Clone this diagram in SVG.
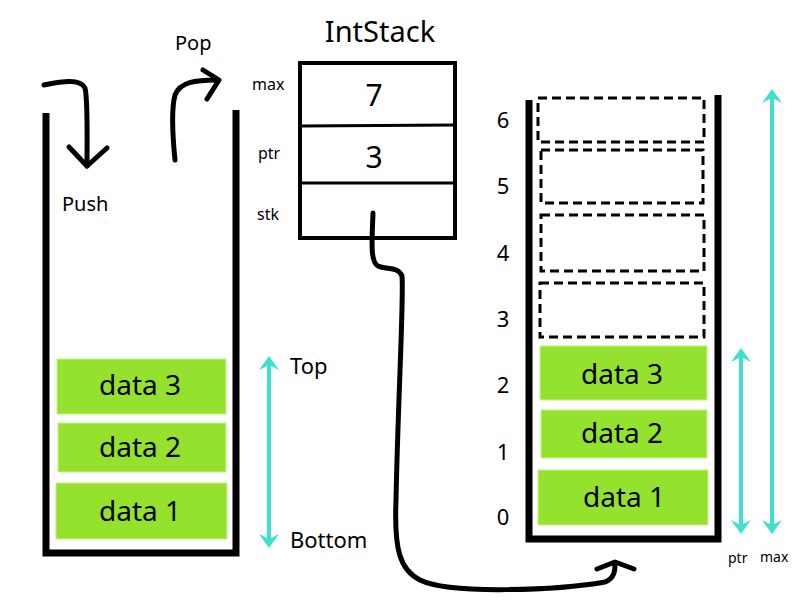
<svg xmlns="http://www.w3.org/2000/svg" width="800" height="600" viewBox="0 0 800 600">
<defs>
<style>
text{font-family:"Noto Sans","Noto Sans CJK KR","Open Sans",sans-serif;fill:#000}
.wall{fill:none;stroke:#000;stroke-width:7;stroke-linejoin:miter}
.green{fill:#95E22E;stroke:#c8f08a;stroke-width:1}
.dash{fill:none;stroke:#000;stroke-width:3;stroke-dasharray:9 5}
.dt{font-size:28px;text-anchor:middle}
.idx{font-size:22px;text-anchor:middle}
.ink{fill:none;stroke:#000;stroke-width:5;stroke-linecap:round;stroke-linejoin:round}
.cy{stroke:#40E0D0;stroke-width:4;fill:none;marker-start:url(#ah);marker-end:url(#ah)}
</style>
<marker id="ah" viewBox="-1 -11 16 22" markerUnits="userSpaceOnUse" markerWidth="16" markerHeight="22" refX="6" refY="0" orient="auto-start-reverse">
<path d="M0,-10 L14,0 L0,10 L5,0 Z" fill="#40E0D0"/>
</marker>
</defs>

<g id="left-stack">
<path class="wall" d="M46,113 L46,553 L236,553 L236,110"/>
<g id="l-data3"><rect class="green" x="57" y="359" width="169" height="55"/><text class="dt" x="140" y="395">data 3</text></g>
<g id="l-data2"><rect class="green" x="58" y="423" width="168" height="49"/><text class="dt" x="140" y="457">data 2</text></g>
<g id="l-data1"><rect class="green" x="56" y="483" width="171" height="56"/><text class="dt" x="140" y="521">data 1</text></g>
</g>

<g id="push">
<path class="ink" d="M44,85 C60,82 80,78 85,88 C88,100 87,140 87,166"/>
<path class="ink" d="M69,147 L87,166 L107,148"/>
<text x="62" y="211" font-size="20">Push</text>
</g>

<g id="pop">
<path class="ink" d="M175,160 C173,140 171,110 175,95 C180,82 195,80 217,80"/>
<path class="ink" d="M203,70 L219,80 L207,99"/>
<text x="175" y="50" font-size="20">Pop</text>
</g>

<g id="top-bottom">
<line class="cy" x1="269" y1="364" x2="269" y2="540"/>
<text x="290" y="374" font-size="22">Top</text>
<text x="290" y="548" font-size="22">Bottom</text>
</g>

<g id="intstack">
<text x="380" y="42" font-size="29" text-anchor="middle">IntStack</text>
<rect x="300" y="63" width="155" height="175" fill="none" stroke="#000" stroke-width="4"/>
<line x1="300" y1="126" x2="455" y2="125" stroke="#000" stroke-width="3"/>
<line x1="300" y1="183" x2="455" y2="183" stroke="#000" stroke-width="3"/>
<text x="374" y="106" font-size="30" text-anchor="middle">7</text>
<text x="374" y="168" font-size="30" text-anchor="middle">3</text>
<text x="252" y="90" font-size="16">max</text>
<text x="258" y="159" font-size="16">ptr</text>
<text x="257" y="220" font-size="16">stk</text>
</g>

<g id="right-stack">
<path class="wall" d="M529,100 L529,539 L718,539 L718,95"/>
<g id="r-slot6"><rect class="dash" x="538" y="98" width="166" height="44"/></g>
<g id="r-slot5"><rect class="dash" x="541" y="150" width="162" height="53"/></g>
<g id="r-slot4"><rect class="dash" x="541" y="215" width="163" height="56"/></g>
<g id="r-slot3"><rect class="dash" x="540" y="283" width="164" height="54"/></g>
<g id="r-data3"><rect class="green" x="540" y="346" width="167" height="54"/><text class="dt" x="622" y="384">data 3</text></g>
<g id="r-data2"><rect class="green" x="541" y="410" width="166" height="48"/><text class="dt" x="622" y="443">data 2</text></g>
<g id="r-data1"><rect class="green" x="538" y="470" width="170" height="55"/><text class="dt" x="624" y="507">data 1</text></g>
<text class="idx" x="503" y="128">6</text>
<text class="idx" x="503" y="194">5</text>
<text class="idx" x="503" y="261">4</text>
<text class="idx" x="503" y="327">3</text>
<text class="idx" x="503" y="393">2</text>
<text class="idx" x="503" y="460">1</text>
<text class="idx" x="503" y="525">0</text>
</g>

<g id="ptr-max">
<line class="cy" x1="741" y1="356" x2="741" y2="526"/>
<line class="cy" x1="772" y1="97" x2="772" y2="526"/>
<text x="728" y="563" font-size="14">ptr</text>
<text x="760" y="562" font-size="14">max</text>
</g>

<g id="connectors">
<path class="ink" d="M373,213 C372,240 370,262 378,266 C386,270 398,266 402,276 C404,295 398,400 396,500 C394,550 400,570 420,580 C450,595 560,590 605,582 C615,578 615,570 615,563"/>
<path class="ink" d="M597,569 L615,562 L634,569"/>
</g>
</svg>
